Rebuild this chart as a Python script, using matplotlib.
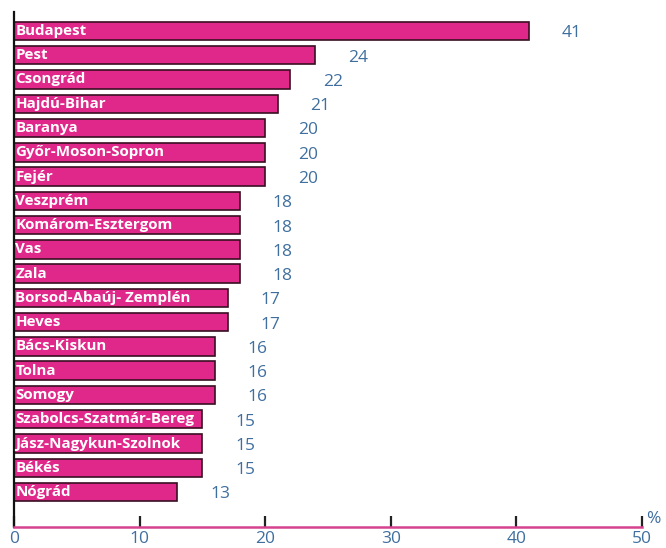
import matplotlib
matplotlib.use('Agg')
import matplotlib.pyplot as plt
import numpy as np

counties = ['Budapest', 'Pest', 'Csongrád', 'Hajdú-Bihar', 'Baranya',
            'Győr-Moson-Sopron', 'Fejér', 'Veszprém', 'Komárom-Esztergom',
            'Vas', 'Zala', 'Borsod-Abaúj- Zemplén', 'Heves', 'Bács-Kiskun',
            'Tolna', 'Somogy', 'Szabolcs-Szatmár-Bereg', 'Jász-Nagykun-Szolnok',
            'Békés', 'Nógrád']
values = [41, 24, 22, 21, 20, 20, 20, 18, 18, 18, 18, 17, 17, 16, 16, 16,
          15, 15, 15, 13]
xticks = [0, 10, 20, 30, 40, 50]

bar_col = '#e0288a'
edge_col = '#3a0f22'
num_col = '#3f6f9f'

plt.rcParams['font.family'] = ['Open Sans', 'DejaVu Sans']

fig = plt.figure(figsize=(6.66, 5.48), dpi=100)
ax = fig.add_axes([14 / 666, 21 / 548, 628 / 666, 515 / 548])

ypos = np.arange(len(counties))
ax.barh(ypos, values, height=0.76, color=bar_col, edgecolor=edge_col,
        linewidth=1.2)

for y, name, v in zip(ypos, counties, values):
    ax.text(0.1, y, name, color='white', fontweight='bold', fontsize=10.9,
            va='center', ha='left')
    ax.text(v + 2.6, y + 0.1, str(v), color=num_col, fontsize=12.5,
            va='center', ha='left')

ax.set_xlim(0, 50)
ax.set_ylim(20.44, -0.78)
ax.set_yticks([])
ax.set_xticks(xticks)
ax.set_xticklabels([str(t) for t in xticks], color=num_col, fontsize=12.5)
ax.tick_params(axis='x', direction='in', length=8, width=1.6, color='#222222',
               pad=3)

for s in ['top', 'right']:
    ax.spines[s].set_visible(False)
ax.spines['left'].set_color('#111111')
ax.spines['left'].set_linewidth(1.6)
ax.spines['bottom'].set_color('#d6428e')
ax.spines['bottom'].set_linewidth(1.8)

ax.text(50.3, 20.44, '%', color=num_col, fontsize=12.5, va='bottom', ha='left',
        clip_on=False)

fig.savefig('out.png', dpi=100)
